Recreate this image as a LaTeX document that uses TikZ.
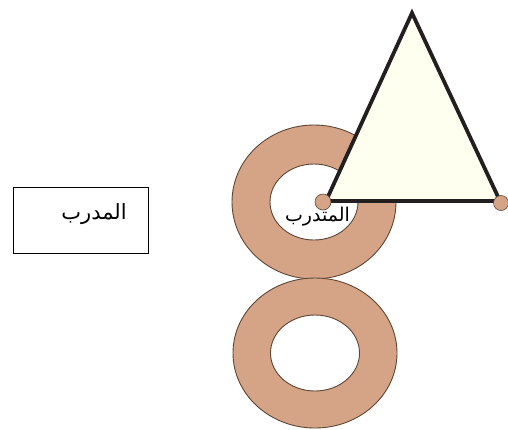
\documentclass[tikz,border=0pt]{standalone}
\usepackage{fontspec}
\newfontfamily\arabicfont[Script=Arabic]{DejaVu Sans}
\TeXXeTstate=1
\definecolor{tan}{HTML}{D5A487}
\definecolor{tanedge}{HTML}{5E4535}
\definecolor{cream}{HTML}{FFFFF0}
\definecolor{darkedge}{HTML}{231F20}
\begin{document}
\begin{tikzpicture}[x=1pt,y=-1pt,
  donut/.style={fill=tan,draw=tanedge,line width=0.9pt,even odd rule},
  tri/.style={fill=cream,draw=darkedge,line width=3.8pt,line join=miter},
  dot/.style={fill=tan,draw=tanedge,line width=0.6pt}]
\useasboundingbox (0,0) rectangle (508,429);
% donuts
\path[donut] (314,202) ellipse [x radius=82,y radius=77] (314,202) ellipse [x radius=44,y radius=38];
\path[donut] (315,353) ellipse [x radius=82,y radius=75] (315,353) ellipse [x radius=44.5,y radius=38];
% label in upper donut
\node[inner sep=0pt,font=\arabicfont\fontsize{19}{22}\selectfont] (lbl2) at (317.5,217) {\beginR المتدرب\endR};
% triangle
\coordinate (A) at (412,13);
\coordinate (B) at (326,201);
\coordinate (C) at (500,201);
\path[tri] (A) -- (B) -- (C) -- cycle;
\node[dot,circle,minimum size=16pt,inner sep=0pt] (dB) at (323,202) {};
\node[dot,circle,minimum size=15pt,inner sep=0pt] (dC) at (501,203) {};
% box
\node[draw=black,line width=0.9pt,minimum width=135pt,minimum height=66pt,inner sep=0pt] (box) at (80.5,220) {};
\node[inner sep=0pt,font=\arabicfont\fontsize{21}{24}\selectfont] (lbl1) at (94,214) {\beginR المدرب\endR};
\end{tikzpicture}
\end{document}
